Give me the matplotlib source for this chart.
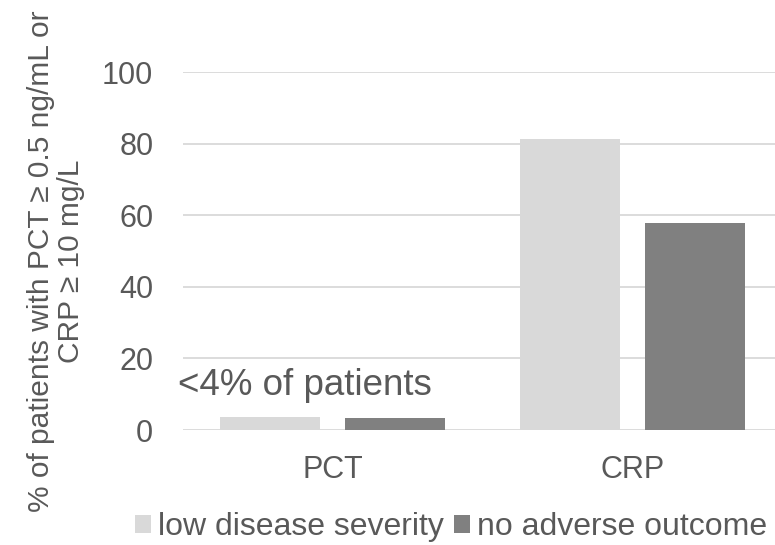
import matplotlib.pyplot as plt
import numpy as np

categories = ['PCT', 'CRP']
series_names = ['low disease severity', 'no adverse outcome']
low_severity = [3.7, 81.4]
no_adverse = [3.4, 57.8]
y_ticks = [0, 20, 40, 60, 80, 100]

light = '#D9D9D9'
dark = '#808080'
text_grey = '#595959'

plt.rcParams['font.family'] = ['Liberation Sans', 'DejaVu Sans']

fig = plt.figure(figsize=(7.75, 5.45), dpi=100)
ax = fig.add_axes([182.5 / 775, 115 / 545, 600 / 775, 358 / 545])

x = np.arange(len(categories))
bar_w = 1 / 3
step = 125 / 300
ax.bar(x - step / 2, low_severity, width=bar_w, color=light, label=series_names[0], zorder=2)
ax.bar(x + step / 2, no_adverse, width=bar_w, color=dark, label=series_names[1], zorder=2)

ax.set_xlim(-0.5, 1.5)
ax.set_ylim(0, 100)
ax.set_yticks(y_ticks)
ax.set_xticks(x)
ax.set_xticklabels(categories)
ax.yaxis.grid(True, color=light, linewidth=1.3, zorder=0)
ax.set_axisbelow(True)
for s in ax.spines.values():
    s.set_visible(False)
ax.tick_params(axis='both', length=0, labelsize=22, labelcolor=text_grey)
ax.tick_params(axis='y', pad=21)
ax.tick_params(axis='x', pad=18)

# note over the small PCT bars
ax.text(-0.515, 9.8, '<4% of patients', fontsize=26.5, color=text_grey,
        ha='left', va='baseline')

fig.text(56 / 775, 1 - 261 / 545,
         '% of patients with PCT \u2265 0.5 ng/mL or\nCRP \u2265 10 mg/L',
         rotation=90, ha='center', va='center', multialignment='center',
         fontsize=21.5, color=text_grey, linespacing=1.1)

leg = fig.legend(loc='center', bbox_to_anchor=(451 / 775, 18 / 545), ncol=2,
                 frameon=False, fontsize=23, handlelength=0.5, handleheight=0.5,
                 handletextpad=0.22, columnspacing=0.3)
for t in leg.get_texts():
    t.set_color(text_grey)

fig.savefig('out.png', dpi=100)
